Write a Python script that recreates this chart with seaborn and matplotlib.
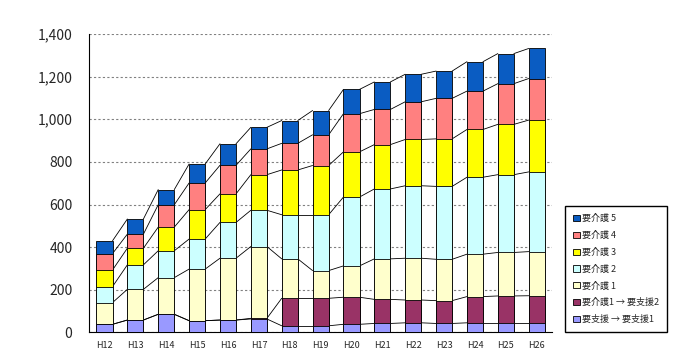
import numpy as np
import pandas as pd
import seaborn as sns
import matplotlib.pyplot as plt
from matplotlib.ticker import FuncFormatter, FixedLocator

# ---------------------------------------------------------------- data
years = ["H12", "H13", "H14", "H15", "H16", "H17", "H18", "H19",
         "H20", "H21", "H22", "H23", "H24", "H25", "H26"]

# bottom to top
shien_1 = [38, 58, 85, 55, 58, 63, 31, 31, 38, 42, 45, 42, 45, 45, 45]
kaigo1_shien2 = [0, 0, 0, 0, 0, 3, 129, 129, 127, 113, 107, 107, 123, 126, 127]
kaigo_1 = [102, 144, 172, 242, 290, 337, 185, 130, 147, 190, 196, 194, 199, 204, 207]
kaigo_2 = [75, 115, 126, 141, 168, 170, 207, 262, 323, 328, 340, 342, 361, 365, 374]
kaigo_3 = [78, 78, 111, 138, 134, 167, 210, 231, 212, 208, 217, 223, 224, 236, 243]
kaigo_4 = [77, 66, 105, 125, 134, 121, 125, 144, 179, 165, 177, 190, 180, 191, 195]
kaigo_5 = [60, 71, 71, 89, 101, 101, 107, 114, 114, 129, 129, 128, 138, 141, 141]

labels = ["要支援 → 要支援1", "要介護1 → 要支援2", "要介護 1", "要介護 2",
          "要介護 3", "要介護 4", "要介護 5"]
colors = ["#9999FF", "#993366", "#FFFFCC", "#CCFFFF", "#FFFF00", "#FF8080", "#0A5CC2"]
series = [shien_1, kaigo1_shien2, kaigo_1, kaigo_2, kaigo_3, kaigo_4, kaigo_5]

# ---------------------------------------------------------------- plot
sns.set_style("white")
plt.rcParams['font.family'] = ['Noto Sans CJK JP', 'DejaVu Sans']

cum = np.cumsum(np.array(series), axis=0)
df = pd.DataFrame(cum.T, columns=labels)
df["year"] = years

fig = plt.figure(figsize=(6.8, 3.54), dpi=100)
ax = fig.add_axes([0.131, 0.061, 0.681, 0.843])

bar_w = 0.52
# draw from the tallest cumulative layer down so lower layers sit on top
for lab, col in zip(labels[::-1], colors[::-1]):
    sns.barplot(data=df, x="year", y=lab, color=col, width=bar_w,
                edgecolor="black", linewidth=0.6, label=lab, ax=ax,
                saturation=1, zorder=3)
if ax.get_legend() is not None:
    ax.get_legend().remove()

# series lines between adjacent bars
for k in range(len(series)):
    for i in range(len(years) - 1):
        ax.plot([i + bar_w / 2, i + 1 - bar_w / 2], [cum[k][i], cum[k][i + 1]],
                color="black", lw=0.6, zorder=2)

ax.set_xlim(-0.5, len(years) - 0.5)
ax.set_ylim(0, 1400)
ax.set_yticks(range(0, 1401, 200))
ax.yaxis.set_major_formatter(FuncFormatter(lambda v, p: f"{int(v):,}"))
ax.set_xlabel("")
ax.set_ylabel("")

ax.grid(axis="y", color="#808080", linestyle=(0, (2, 2)), lw=0.8, zorder=0)
ax.set_axisbelow(True)
for s in ["top", "right"]:
    ax.spines[s].set_visible(False)
for s in ["left", "bottom"]:
    ax.spines[s].set_color("black")
    ax.spines[s].set_linewidth(0.8)

ax.tick_params(axis="y", length=0, labelsize=10, pad=12)
ax.tick_params(axis="x", which="major", length=0, labelsize=6.5, pad=6)
ax.xaxis.set_minor_locator(FixedLocator(np.arange(-0.5, len(years), 1.0)))
ax.tick_params(axis="x", which="minor", direction="in", length=3, width=0.8)

handles, lbls = ax.get_legend_handles_labels()
fig.legend(handles, lbls, loc="lower left", bbox_to_anchor=(0.831, 0.062), fontsize=6.5,
           frameon=True, fancybox=False, edgecolor="black", framealpha=1,
           handlelength=0.7, handleheight=0.7, handletextpad=0.3,
           labelspacing=0.85, borderpad=0.9, borderaxespad=0)

fig.savefig("out.png", dpi=100)
